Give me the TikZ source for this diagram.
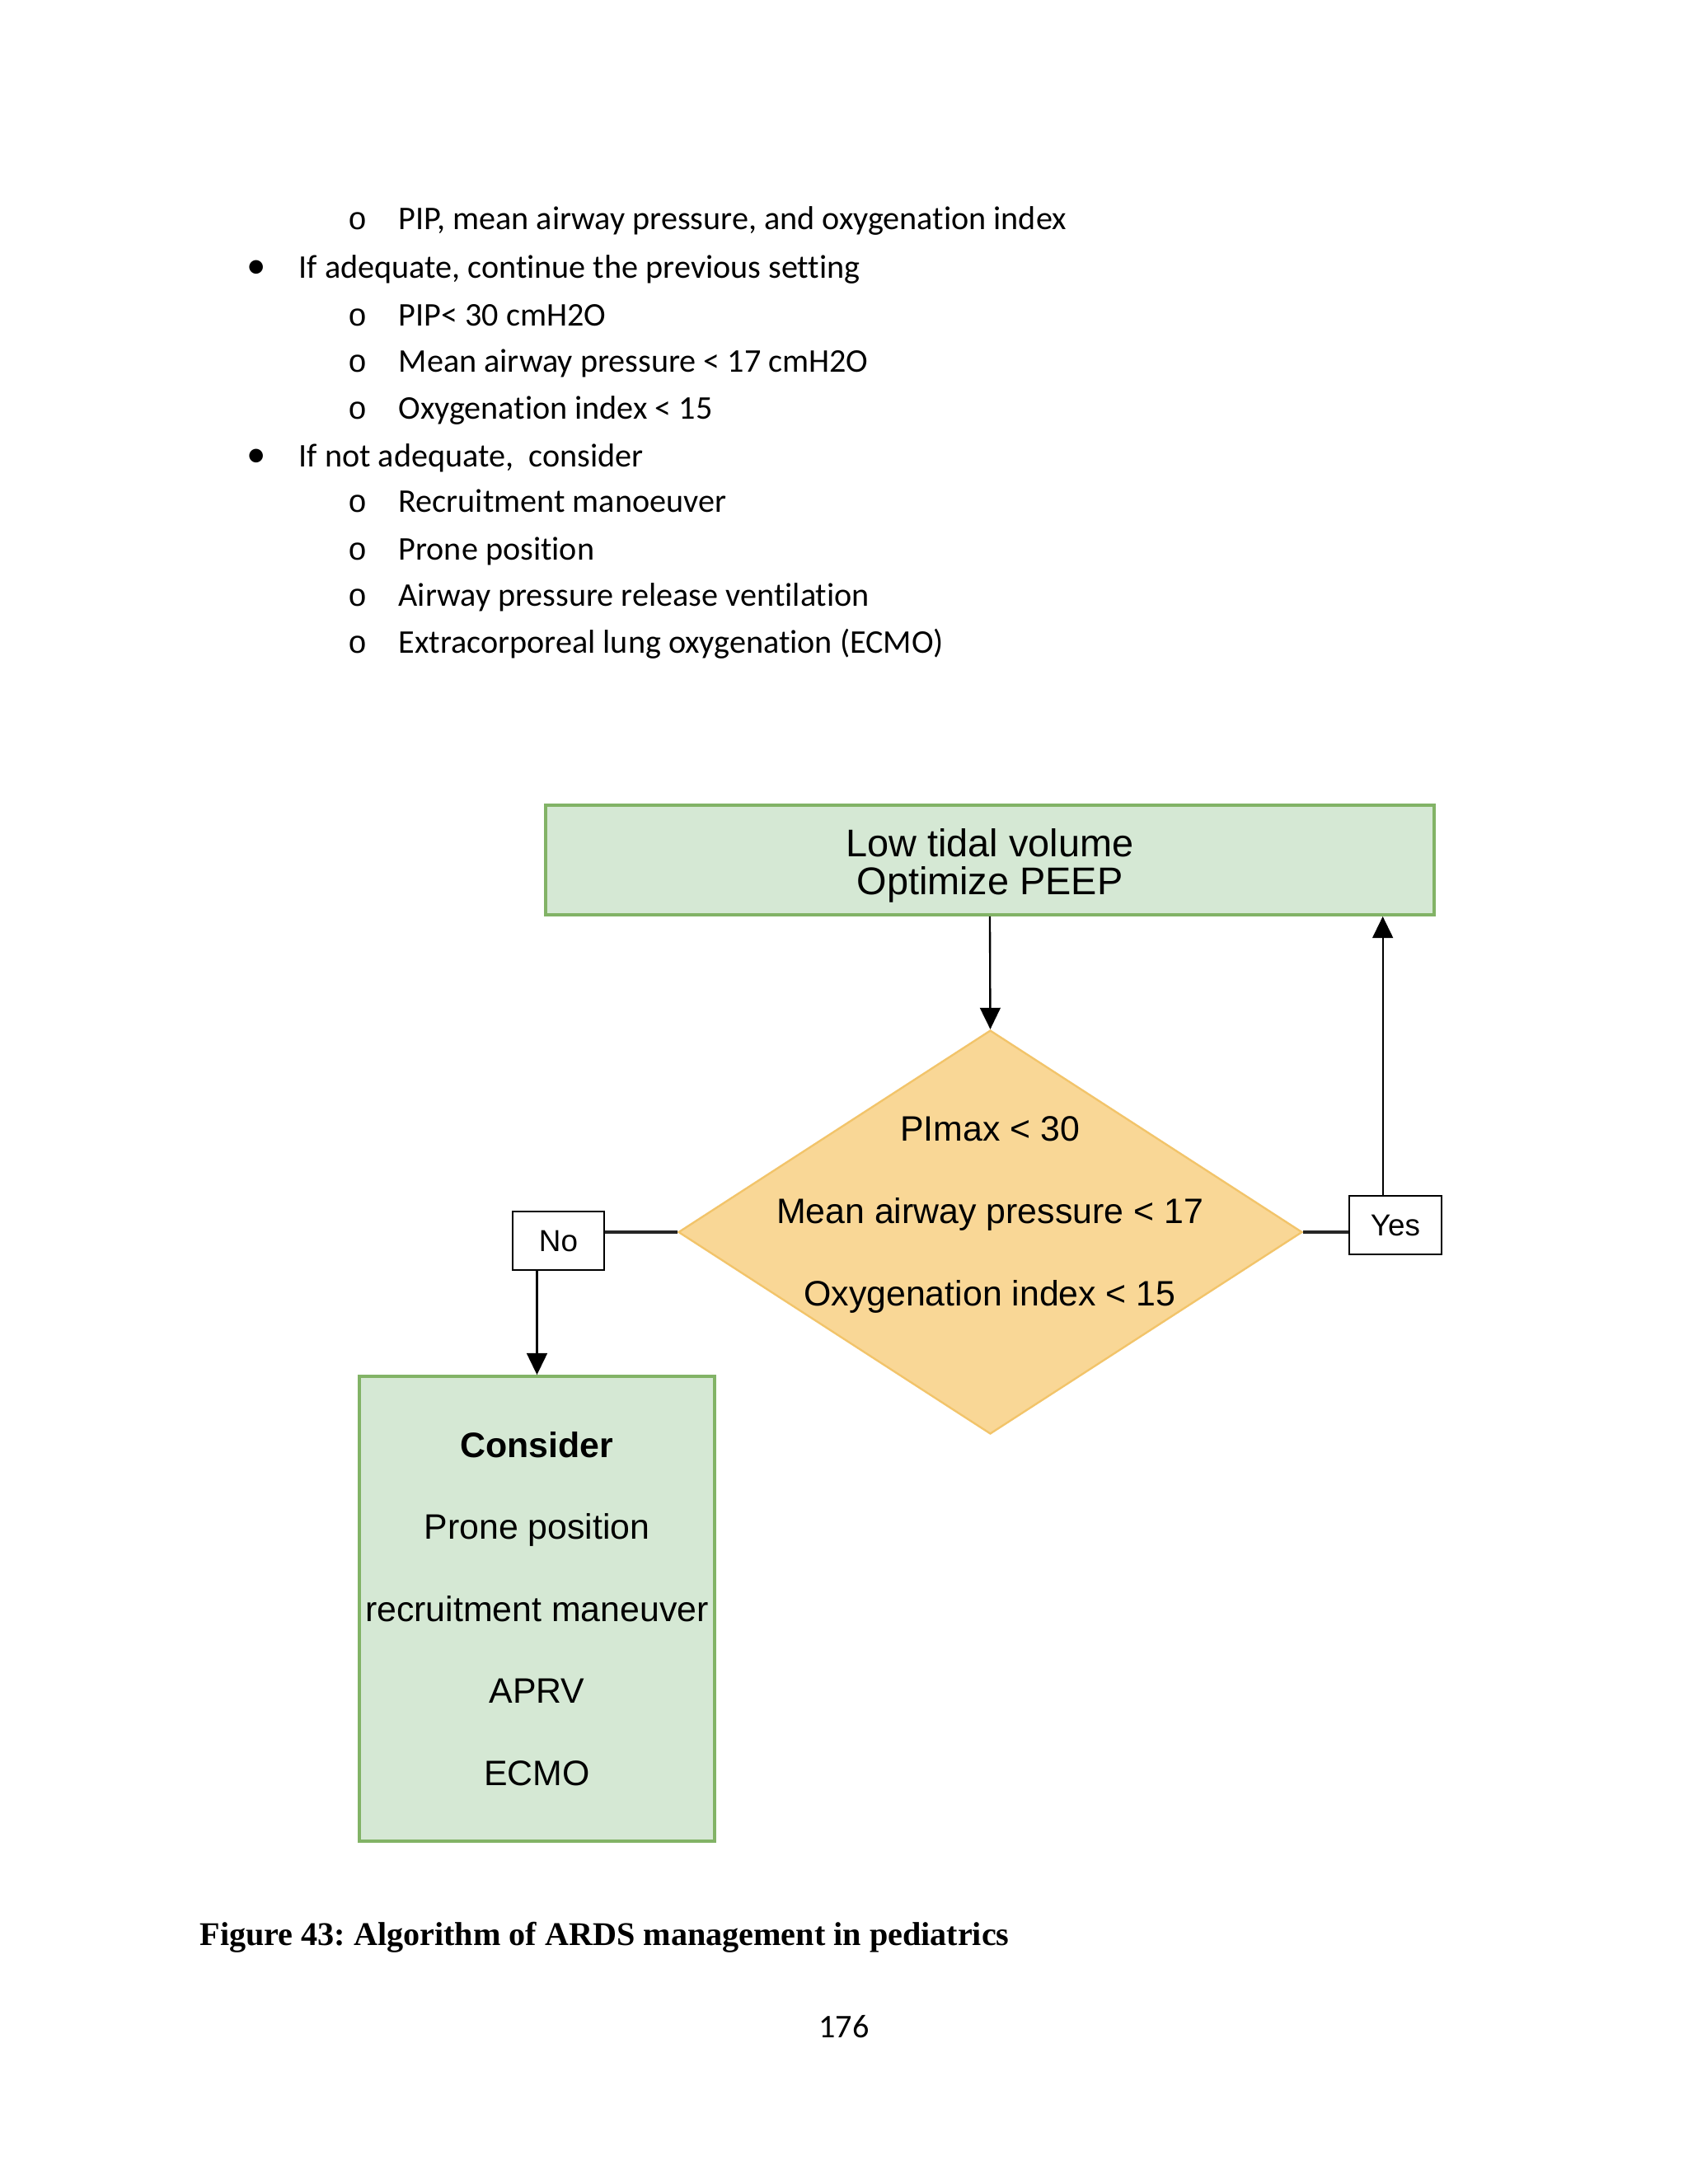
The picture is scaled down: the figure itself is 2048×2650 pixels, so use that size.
\documentclass[tikz,border=0pt]{standalone}
\usepackage{fontspec}
\setmainfont[Ligatures=NoCommon]{Carlito}
\newfontfamily\arialf{Liberation Sans}
\newfontfamily\timesf{Liberation Serif}
\newfontfamily\courf{Liberation Mono}
\usetikzlibrary{arrows.meta,shapes.geometric,calc}
\frenchspacing
\definecolor{boxgreen}{HTML}{D5E8D4}
\definecolor{boxgreenline}{HTML}{82B366}
\definecolor{diafill}{HTML}{F9D796}
\definecolor{dialine}{HTML}{F2C46A}
\tikzset{
  bodytext/.style={anchor=base west,inner sep=0pt,font=\fontsize{12}{14}\selectfont},
  subbullet/.style={anchor=base,inner sep=0pt,font=\courf\fontsize{11.5}{14}\selectfont},
  mainbullet/.style={anchor=base,inner sep=0pt,font=\fontsize{14}{14}\selectfont},
  greenbox/.style={draw=boxgreenline,fill=boxgreen,line width=1.2pt,inner sep=0pt},
  decision/.style={diamond,draw=dialine,fill=diafill,line width=0.7pt,inner sep=0pt,aspect=1.545},
  labelbox/.style={draw=black,fill=white,line width=0.7pt,inner sep=0pt,font=\arialf\fontsize{11}{13}\selectfont},
  conn/.style={draw=black,line width=0.7pt},
  thickconn/.style={draw=black!85,line width=1.4pt},
  arr/.style={conn,-{Triangle[length=7.8pt,width=7.4pt]}}
}
\begin{document}
\begin{tikzpicture}[x=0.29883pt,y=-0.29883pt]
\useasboundingbox[fill=white] (0,0) rectangle (2048,2650);
% bullet list
\node[subbullet] (b0) at (434,278) {o};
\node[bodytext] (t0) at (483,278) {PIP, mean airway pressure, and oxygenation index};
\node[mainbullet] (b1) at (311,337) {•};
\node[bodytext] (t1) at (362,337) {If adequate, continue the previous setting};
\node[subbullet] (b2) at (434,395) {o};
\node[bodytext] (t2) at (483,395) {PIP< 30 cmH2O};
\node[subbullet] (b3) at (434,451) {o};
\node[bodytext] (t3) at (483,451) {Mean airway pressure < 17 cmH2O};
\node[subbullet] (b4) at (434,508) {o};
\node[bodytext] (t4) at (483,508) {Oxygenation index < 15};
\node[mainbullet] (b5) at (311,566) {•};
\node[bodytext] (t5) at (362,566) {If not adequate, \ consider};
\node[subbullet] (b6) at (434,621) {o};
\node[bodytext] (t6) at (483,621) {Recruitment manoeuver};
\node[subbullet] (b7) at (434,679) {o};
\node[bodytext] (t7) at (483,679) {Prone position};
\node[subbullet] (b8) at (434,735) {o};
\node[bodytext] (t8) at (483,735) {Airway pressure release ventilation};
\node[subbullet] (b9) at (434,792) {o};
\node[bodytext] (t9) at (483,792) {Extracorporeal lung oxygenation (ECMO)};
% flowchart
\node[greenbox,minimum width=322.1pt,minimum height=39.7pt] (top) at (1201,1043.5) {};
\node[inner sep=0pt,align=center,font=\arialf\fontsize{14}{13.8}\selectfont] (toptext) at (1201,1050)
      {Low tidal volume\\Optimize PEEP};
\node[decision,minimum width=226.2pt,minimum height=146.4pt] (dia) at (1201.5,1495) {};
\node[inner sep=0pt,align=center,font=\arialf\fontsize{12.8}{29.9}\selectfont] (dtext) at (1201,1474)
      {PImax < 30\\Mean airway pressure < 17\\Oxygenation index < 15};
\node[labelbox,minimum width=33.2pt,minimum height=21.2pt] (no) at (677.5,1505.5) {No};
\node[labelbox,minimum width=33.5pt,minimum height=21.2pt] (yes) at (1693,1486.5) {Yes};
\node[greenbox,minimum width=128.8pt,minimum height=168.5pt,align=center,
      font=\arialf\fontsize{12.8}{29.7}\selectfont] (cons) at (651.5,1952)
      {\textbf{Consider}\\Prone position\\recruitment maneuver\\APRV\\ECMO};
% caption and page number
\node[anchor=base west,inner sep=0pt,font=\timesf\bfseries\fontsize{12}{14}\selectfont] (cap) at (242,2360)
      {Figure 43: Algorithm of ARDS management in pediatrics};
\node[anchor=base,inner sep=0pt,font=\fontsize{12}{14}\selectfont] (pg) at (1024,2472) {176};
% connectors
\coordinate (yup) at ($(yes.north west)!0.366!(yes.north east)$);
\draw[arr] (top.south) -- (dia.north);
\draw[thickconn] (dia.west) -- (dia.west -| no.east);
\draw[arr] (no.south -| cons.north) -- (cons.north);
\draw[thickconn] (dia.east) -- (dia.east -| yes.west);
\draw[arr] (yup) -- (yup |- top.south);
\end{tikzpicture}
\end{document}
